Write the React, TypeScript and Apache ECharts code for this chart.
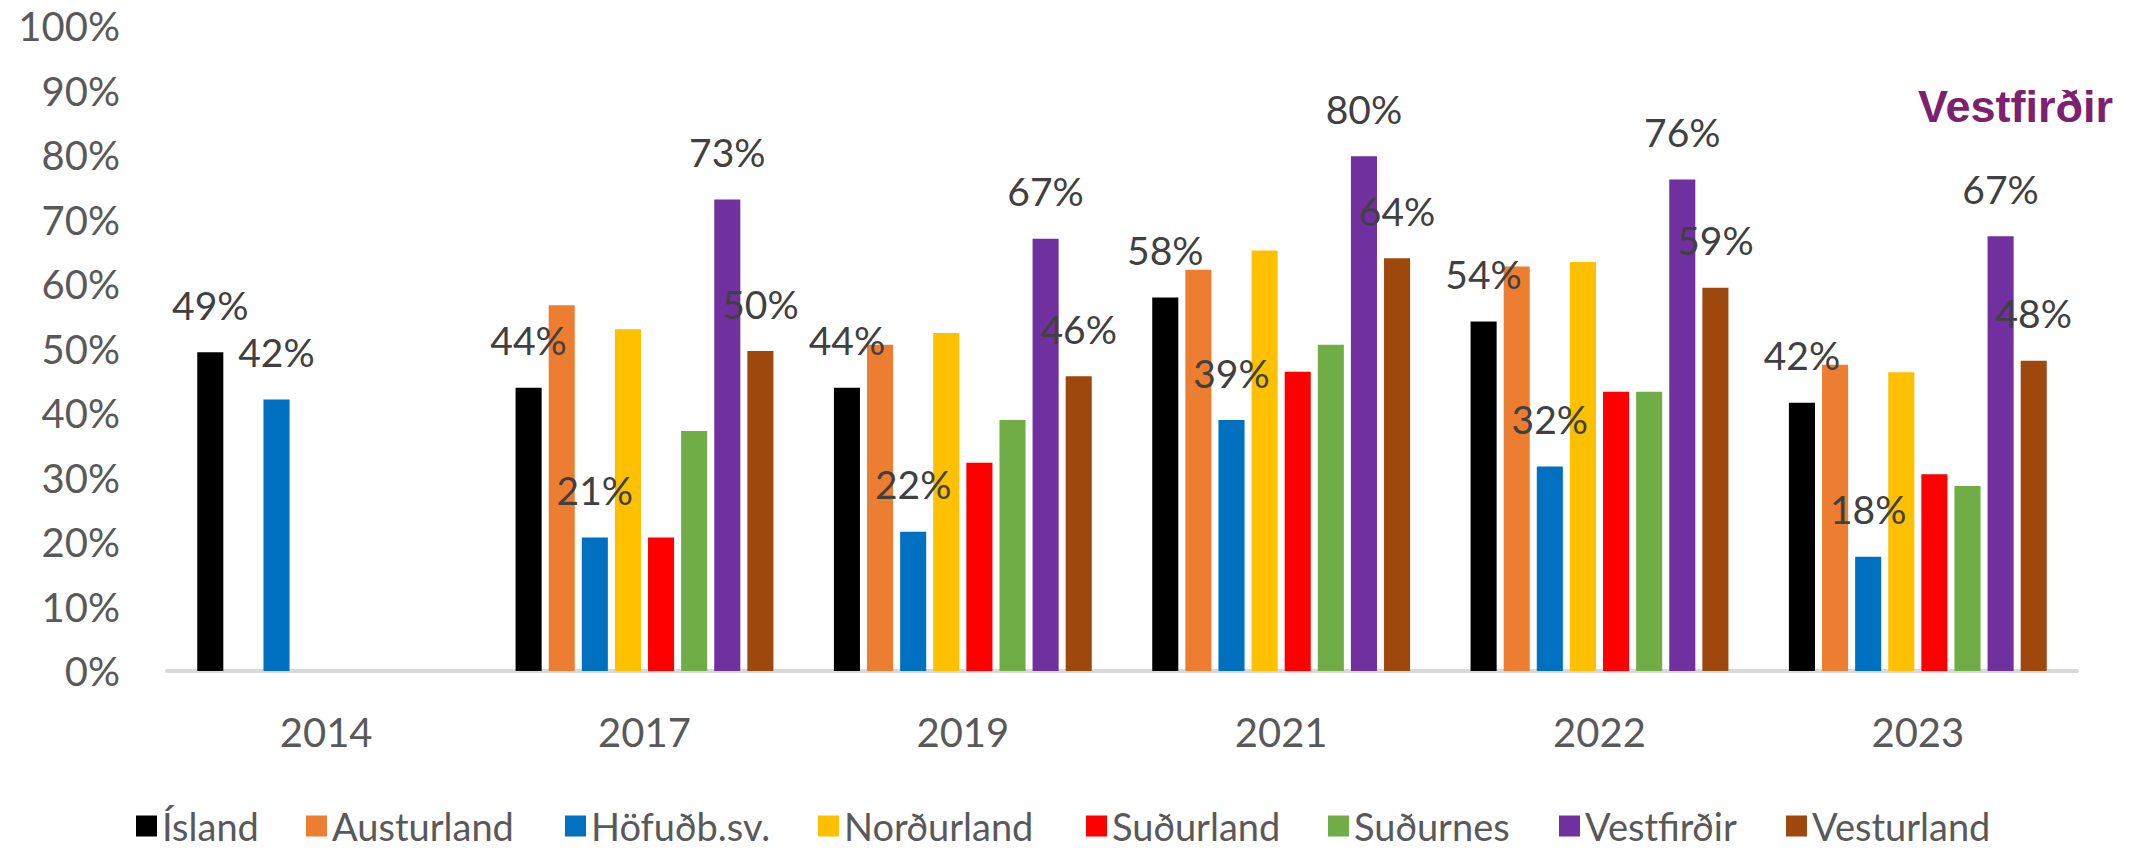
import React, { useEffect, useRef } from "react";
import * as echarts from "echarts";

const categories = ["2014", "2017", "2019", "2021", "2022", "2023"];

const island = [49.4, 43.9, 43.9, 57.9, 54.2, 41.6];
const austurland = [null, 56.7, 50.6, 62.2, 62.7, 47.5];
const hofudborgarsvaedi = [42.1, 20.7, 21.6, 38.9, 31.7, 17.7];
const nordurland = [null, 53.0, 52.4, 65.2, 63.4, 46.3];
const sudurland = [null, 20.7, 32.3, 46.4, 43.3, 30.5];
const sudurnes = [null, 37.2, 38.9, 50.6, 43.3, 28.7];
const vestfirdir = [null, 73.1, 67.0, 79.8, 76.2, 67.4];
const vesturland = [null, 49.6, 45.7, 64.0, 59.4, 48.1];

const seriesNames = [
  "Ísland",
  "Austurland",
  "Höfuðb.sv.",
  "Norðurland",
  "Suðurland",
  "Suðurnes",
  "Vestfirðir",
  "Vesturland",
];
const seriesData = [
  island,
  austurland,
  hofudborgarsvaedi,
  nordurland,
  sudurland,
  sudurnes,
  vestfirdir,
  vesturland,
];
const seriesColors = [
  "#000000",
  "#ED7D31",
  "#0070C0",
  "#FFC000",
  "#FF0000",
  "#70AD47",
  "#7030A0",
  "#9E480E",
];
const showLabel = [true, false, true, false, false, false, true, true];

const titleText = "Vestfirðir";

const legendLefts = [136, 306, 565, 818, 1086, 1328, 1559, 1786];

export default function App() {
  const ref = useRef<HTMLDivElement>(null);

  useEffect(() => {
    document.body.style.margin = "0";
    if (!ref.current) return;
    const chart = echarts.init(ref.current, null, { renderer: "svg" });

    const option = {
      animation: false,
      backgroundColor: "#FFFFFF",
      title: {
        text: titleText,
        right: 20,
        top: 84,
        padding: 0,
        textStyle: {
          fontFamily: "Liberation Sans",
          fontWeight: "bold",
          fontSize: 45,
          color: "#7B2170",
        },
      },
      legend: seriesNames.map((name, i) => ({
        data: [name],
        left: legendLefts[i],
        top: 807,
        padding: 0,
        itemGap: 0,
        itemWidth: 21,
        itemHeight: 21,
        icon: "rect",
        selectedMode: false,
        textStyle: {
          fontFamily: "Lato",
          fontSize: 38,
          lineHeight: 38,
          color: "#595959",
        },
      })),
      grid: {
        left: 167,
        right: 56,
        top: 26,
        bottom: 180,
        containLabel: false,
      },
      xAxis: {
        type: "category",
        data: categories,
        axisLine: { lineStyle: { color: "#D9D9D9", width: 4 } },
        axisTick: { show: false },
        axisLabel: {
          color: "#595959",
          fontSize: 40,
          fontFamily: "Lato",
          margin: 41,
        },
      },
      yAxis: {
        type: "value",
        min: 0,
        max: 100,
        interval: 10,
        axisLine: { show: false },
        axisTick: { show: false },
        splitLine: { show: false },
        axisLabel: {
          formatter: "{value}%",
          color: "#595959",
          fontSize: 40,
          fontFamily: "Lato",
          margin: 47,
        },
      },
      series: seriesNames.map((name, i) => ({
        name,
        type: "bar",
        data: seriesData[i],
        barGap: "27%",
        barCategoryGap: "19%",
        itemStyle: { color: seriesColors[i] },
        label: {
          show: showLabel[i],
          position: "top",
          distance: 28,
          fontFamily: "Lato",
          fontSize: 39,
          color: "#404040",
          formatter: (p: any) => Math.round(p.value) + "%",
        },
      })),
    };

    chart.setOption(option as any);
    return () => {
      chart.dispose();
    };
  }, []);

  return <div ref={ref} style={{ width: 2133, height: 851 }} />;
}
